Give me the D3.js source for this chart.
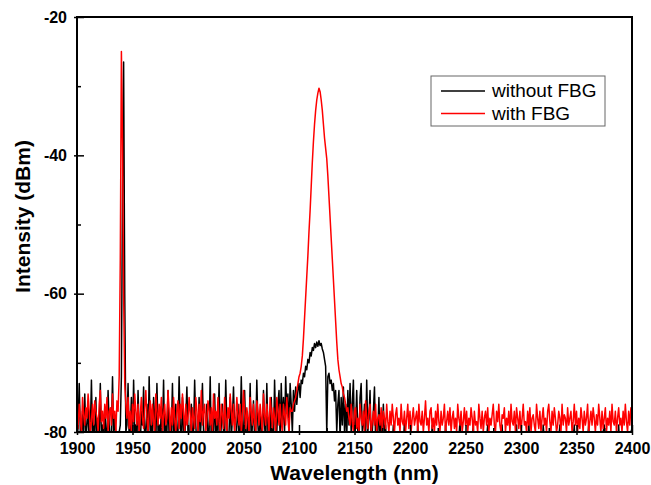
<!DOCTYPE html>
<html>
<head>
<meta charset="utf-8">
<script src="https://cdn.jsdelivr.net/npm/d3@7"></script>
<style>
body { margin: 0; background: #fff; }
text { font-family: "Liberation Sans", Arial, sans-serif; }
.axis text { font-weight: bold; font-size: 16px; fill: #000; }
.axis line { stroke: #000; stroke-width: 1.5; }
.axis path { display: none; }
</style>
</head>
<body>
<div id="chart"></div>
<script>
// wavelength grid: 1900 -> 2400 nm, one sample per nm
var wlStart = 1900;
var wlStep = 1;

// series values (dBm)
var withoutFBG = [
  // 1900-1937
  -81, -79, -73, -80, -82, -77, -80, -74.5, -81, -79,
  -76, -82, -80, -72.5, -81, -79, -80, -75, -82, -78,
  -80, -73, -81, -79, -82, -76.5, -80, -81, -74, -79,
  -82, -80, -72, -81, -78, -80, -82, -80,
  // 1938-1944 pump line
  -80, -79, -72, -45, -26.5, -60, -80,
  // 1945-2093
  -79, -73, -81, -80, -75, -82, -72.5, -80, -79, -81,
  -74, -80, -82, -77, -79, -73.5, -81, -80, -76, -82,
  -72, -80, -79, -81, -75, -78, -82, -73, -80, -79,
  -81, -76.5, -80, -72.5, -82, -79, -80, -74, -81, -78,
  -80, -73, -82, -79, -76, -81, -80, -72, -79, -82,
  -75, -80, -81, -78, -73.5, -80, -82, -79, -76, -81,
  -80, -72.5, -79, -82, -80, -75, -81, -78, -73, -80,
  -82, -79, -76, -81, -80, -72, -82, -79, -80, -74.5,
  -81, -78, -80, -73, -82, -79, -76, -80, -81, -72.5,
  -79, -82, -80, -75, -81, -78, -73.5, -80, -82, -79,
  -76, -81, -80, -72, -79, -82, -74, -80, -81, -78,
  -80, -73, -82, -79, -75.5, -81, -80, -72.5, -79, -82,
  -77, -80, -81, -74, -79, -82, -73, -80, -78, -81,
  -75, -80, -82, -72.5, -79, -80, -76, -74, -81, -73,
  -79, -75, -80, -72, -77, -74.5, -80, -73, -76,
  // 2094-2145 weak emission
  -80, -74, -77, -73.5, -76, -74, -73, -75, -72.5, -73,
  -71.5, -72, -70.5, -71, -69.5, -70, -68.5, -69, -67.8, -68.2,
  -67.2, -67.8, -67, -67.6, -66.8, -67.5, -67.2, -68, -68.5, -69.5,
  -70.5, -80, -72, -71.5, -73, -72.5, -74, -73, -75.5, -74,
  -80, -76, -74, -81, -75, -79, -73.5, -80, -76, -81,
  -74, -79,
  // 2146-2180
  -73, -80, -76, -72.5, -81, -79, -74, -80, -82, -75,
  -73, -80, -79, -76, -81, -72.5, -80, -78, -74, -82,
  -80, -77, -73.5, -81, -79, -80, -75, -82, -78, -80,
  -76, -81, -79, -82, -80,
  // 2181-2400
  -81, -83, -80, -82, -79, -81, -83, -80, -82, -81,
  -83, -80, -81, -82, -78.5, -81, -83, -80, -82, -81,
  -80, -82, -83, -81, -80, -82, -79, -83, -81, -80,
  -82, -81, -83, -80, -82, -81, -80, -83, -82, -79,
  -81, -83, -80, -82, -81, -83, -80, -82, -81, -80,
  -83, -79, -81, -82, -80, -83, -81, -82, -80, -81,
  -82, -80, -83, -81, -78.5, -82, -80, -83, -81, -82,
  -80, -81, -83, -82, -80, -81, -79, -83, -82, -80,
  -81, -83, -80, -82, -81, -80, -83, -82, -81, -79,
  -83, -80, -82, -81, -83, -80, -82, -81, -80, -83,
  -81, -82, -79, -83, -80, -82, -81, -83, -80, -82,
  -81, -80, -83, -82, -81, -79, -83, -80, -82, -81,
  -80, -83, -82, -81, -80, -83, -78.5, -82, -81, -80,
  -83, -81, -82, -80, -83, -81, -80, -82, -83, -79,
  -81, -80, -83, -82, -81, -80, -83, -82, -80, -81,
  -82, -83, -80, -81, -79, -83, -82, -80, -81, -83,
  -80, -82, -81, -83, -80, -82, -81, -79, -83, -80,
  -82, -81, -83, -80, -82, -81, -80, -83, -82, -81,
  -79, -83, -80, -82, -81, -83, -80, -82, -81, -80,
  -83, -81, -82, -80, -79, -83, -81, -82, -80, -83,
  -81, -80, -82, -83, -81, -80, -82, -79, -83, -81,
  -80, -82, -83, -81, -80, -82, -81, -83, -80, -79.5
];

var withFBG = [
  // 1900-1937
  -77, -79.5, -76, -78, -80, -75, -77.5, -79, -76.5, -78,
  -74.5, -77, -80, -78.5, -76, -79, -75.5, -77, -78, -80,
  -76, -74, -78.5, -77, -79.5, -76, -78, -75, -80, -77,
  -76.5, -79, -74.5, -78, -77, -80, -75.5, -77,
  // 1938-1944 pump line
  -72, -55, -25, -38, -60, -73, -76,
  // 1945-2093
  -78, -75, -79.5, -77, -80, -76, -78.5, -74.5, -77, -79,
  -76, -80, -77.5, -75, -78, -79.5, -76.5, -74, -78, -80,
  -77, -75.5, -79, -76, -78.5, -80, -74.5, -77, -79, -76,
  -78, -75, -80, -77.5, -76, -79, -78, -74, -77, -80,
  -76.5, -79, -75, -78, -80, -77, -75.5, -79.5, -76, -78,
  -74.5, -77, -80, -76, -79, -78, -75, -77.5, -80, -76.5,
  -78, -79.5, -75, -77, -80, -76, -78.5, -74, -79, -77,
  -76, -80, -78, -75.5, -77, -79, -76.5, -80, -74.5, -78,
  -77, -79, -75, -78.5, -80, -76, -77.5, -79.5, -75, -78,
  -80, -76.5, -78, -74.5, -77, -79, -76, -80, -78, -75,
  -77.5, -79, -76, -80, -78, -74, -77, -79.5, -76.5, -78,
  -80, -75, -77, -79, -76, -78.5, -80, -75.5, -77, -79,
  -76, -78, -80, -74.5, -77.5, -79, -76, -78, -80, -75,
  -77, -79.5, -76.5, -78, -80, -75, -77, -79, -76, -78.5,
  -80, -76, -77.5, -79, -75, -78, -80, -76.5, -77,
  // 2094-2145 FBG line
  -77, -76, -75.5, -75, -74, -73, -72, -71.5, -70.5, -69,
  -66.5, -63.5, -60.5, -57.5, -54.5, -51, -48, -44.5, -41, -38,
  -35.5, -33.5, -32, -31, -30.3, -30.8, -32, -33.5, -35.5, -37.5,
  -39, -40.5, -43, -46, -49, -52, -55, -58, -61, -64,
  -67, -69.5, -71, -72, -73, -73.5, -74.5, -75, -76, -77,
  -76.5, -78,
  // 2146-2400
  -79, -76, -78.5, -80, -77, -76.5, -79.5, -78, -80, -76,
  -78, -79, -77, -80, -75.5, -78, -79.5, -77, -76, -80,
  -78.5, -77, -79, -76, -80, -78, -77.5, -79, -76.5, -80,
  -77, -78, -79.5, -76, -78.5, -80, -77, -79, -76, -78,
  -80, -77.5, -76.5, -79, -78, -80, -76, -78.5, -79, -77,
  -80, -78, -76, -79.5, -77, -80, -78, -76.5, -79, -78,
  -77, -80, -76, -78.5, -79, -77, -80, -78, -75.5, -79,
  -78, -80, -77, -76.5, -79.5, -78, -80, -77, -79, -76,
  -78.5, -80, -77, -79, -78, -76, -80, -78.5, -77, -79,
  -76.5, -80, -78, -77, -79.5, -78, -80, -76, -78, -79,
  -77, -80, -78.5, -76.5, -79, -77, -80, -78, -79, -76.5,
  -78, -80, -77, -79, -78.5, -80, -76, -78, -79.5, -77,
  -80, -78, -77, -79, -76.5, -80, -78, -79, -77.5, -76,
  -79, -80, -77, -78.5, -76, -79, -80, -77.5, -78, -76.5,
  -80, -78, -79, -77, -80, -76, -78.5, -79, -77, -80,
  -76.5, -78, -79.5, -77, -80, -78, -76, -79, -78.5, -80,
  -77, -79, -76.5, -80, -78, -77.5, -79, -80, -76, -78,
  -79.5, -77, -80, -78, -76.5, -79, -78, -80, -77, -76,
  -78.5, -80, -77, -79, -76.5, -78, -80, -79, -77, -78,
  -80, -76, -79, -77.5, -78, -80, -76.5, -79, -78, -77,
  -80, -78.5, -76, -79, -77, -80, -78, -79.5, -76.5, -78,
  -80, -77, -79, -78, -76, -80, -78.5, -77, -79, -76.5,
  -78, -80, -77.5, -79, -76, -78, -80, -77, -79.5, -78,
  -76.5, -80, -78, -79, -77, -80, -76, -78.5, -79, -77,
  -80, -78, -76.5, -79, -78, -80, -77, -79, -76, -78.5,
  -80, -77, -79, -76.5, -78
];

var xTicks = [1900, 1950, 2000, 2050, 2100, 2150, 2200, 2250, 2300, 2350, 2400];
var xMinor = [1925, 1975, 2025, 2075, 2125, 2175, 2225, 2275, 2325, 2375];
var yTicks = [-20, -40, -60, -80];
var yMinor = [-30, -50, -70];

var seriesNames = ["without FBG", "with FBG"];
var seriesColors = ["#000000", "#ff0000"];

var svgWidth = 651;
var svgHeight = 485;
var margin = { top: 17, right: 19, bottom: 53, left: 77 };
var width = svgWidth - margin.left - margin.right;
var height = svgHeight - margin.top - margin.bottom;

var svg = d3.select("#chart")
    .append("svg")
    .attr("width", svgWidth)
    .attr("height", svgHeight);

var chartGroup = svg.append("g")
    .attr("transform", `translate(${margin.left}, ${margin.top})`);

var x = d3.scaleLinear().domain([1900, 2400]).range([0, width]);
var y = d3.scaleLinear().domain([-80, -20]).range([height, 0]);

chartGroup.append("clipPath")
    .attr("id", "plotClip")
    .append("rect")
    .attr("width", width)
    .attr("height", height);

var line = d3.line()
    .x((d, i) => x(wlStart + i * wlStep))
    .y(d => y(d));

var plot = chartGroup.append("g").attr("clip-path", "url(#plotClip)");

[withoutFBG, withFBG].forEach((vals, k) => {
    plot.append("path")
        .datum(vals)
        .attr("d", line)
        .attr("fill", "none")
        .attr("stroke", seriesColors[k])
        .attr("stroke-width", 1.5)
        .attr("stroke-linejoin", "round");
});

// axes (ticks point inward, major ones poke out a little)
var bottomAxis = chartGroup.append("g")
    .attr("class", "axis")
    .attr("transform", `translate(0, ${height})`)
    .call(d3.axisBottom(x).tickValues(xTicks).tickSize(-7).tickPadding(11).tickFormat(d => String(d)));
bottomAxis.selectAll(".tick line").attr("y1", 3);

chartGroup.append("g")
    .attr("class", "axis")
    .attr("transform", `translate(0, ${height})`)
    .call(d3.axisBottom(x).tickValues(xMinor).tickSize(-4).tickFormat(""));

var leftAxis = chartGroup.append("g")
    .attr("class", "axis")
    .call(d3.axisLeft(y).tickValues(yTicks).tickSize(-7).tickPadding(10).tickFormat(d => String(d)));
leftAxis.selectAll(".tick line").attr("x1", -3);

chartGroup.append("g")
    .attr("class", "axis")
    .call(d3.axisLeft(y).tickValues(yMinor).tickSize(-4).tickFormat(""));

// frame
chartGroup.append("rect")
    .attr("width", width)
    .attr("height", height)
    .attr("fill", "none")
    .attr("stroke", "#000")
    .attr("stroke-width", 2);

// axis titles
chartGroup.append("text")
    .attr("x", width / 2)
    .attr("y", height + 48)
    .attr("text-anchor", "middle")
    .style("font-size", "21px")
    .style("font-weight", "bold")
    .text("Wavelength (nm)");

chartGroup.append("text")
    .attr("transform", "rotate(-90)")
    .attr("x", -(height / 2) + 8)
    .attr("y", -47)
    .attr("text-anchor", "middle")
    .style("font-size", "21px")
    .style("font-weight", "bold")
    .text("Intensity (dBm)");

// legend
var legend = svg.append("g").attr("transform", "translate(431, 76)");
legend.append("rect")
    .attr("width", 174)
    .attr("height", 50)
    .attr("fill", "#fff")
    .attr("stroke", "#666")
    .attr("stroke-width", 1);

seriesNames.forEach((name, k) => {
    legend.append("line")
        .attr("x1", 10).attr("x2", 54)
        .attr("y1", 15 + k * 22.5).attr("y2", 15 + k * 22.5)
        .attr("stroke", seriesColors[k])
        .attr("stroke-width", 1.5);
    legend.append("text")
        .attr("x", 61)
        .attr("y", 21 + k * 23)
        .style("font-size", "19px")
        .text(name);
});
</script>
</body>
</html>
